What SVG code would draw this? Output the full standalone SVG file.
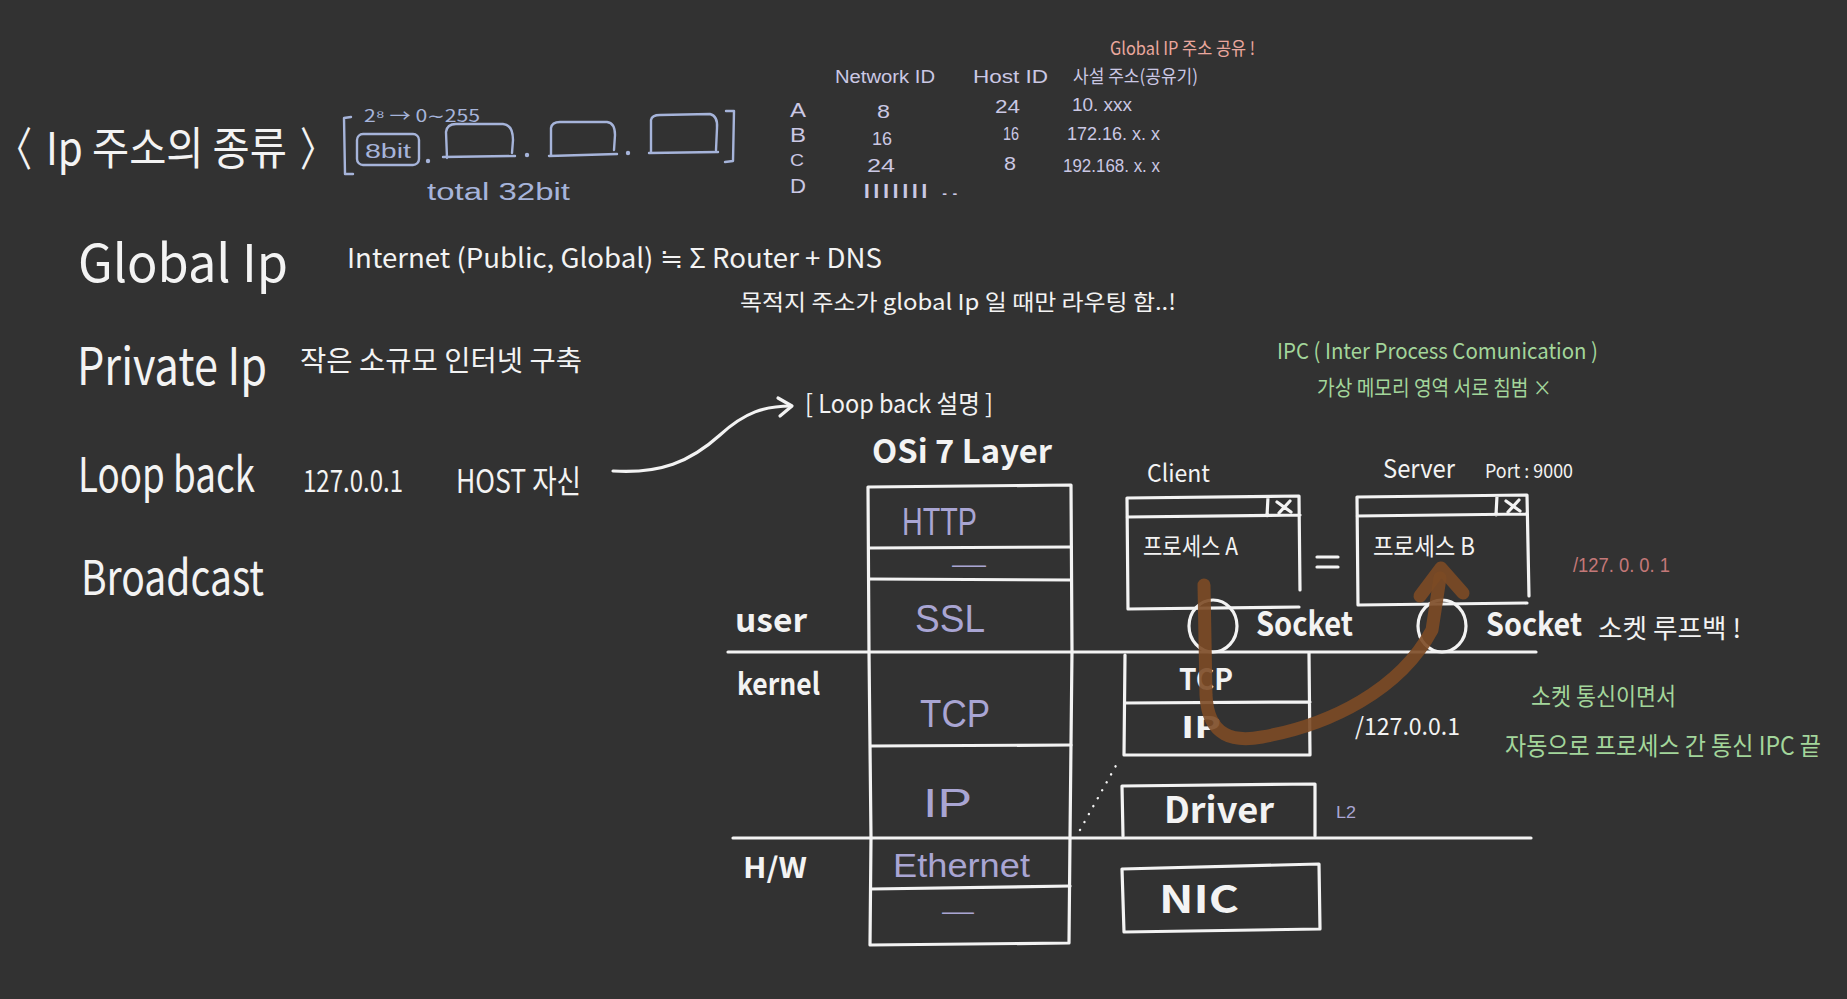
<svg xmlns="http://www.w3.org/2000/svg" width="1847" height="999" viewBox="0 0 1847 999">
<style>
text{font-family:"Noto Sans CJK KR","Liberation Sans",sans-serif}
.lat{font-family:"Liberation Sans","Noto Sans CJK KR",sans-serif}
.w{fill:#f3f3f3}
.b{font-weight:700}
.lav{fill:#a9a5d3}
.blue{fill:#a6b4da}
.tb{fill:#cbc8e4}
.pink{fill:#eaa79d}
.rose{fill:#c47878}
.grn{fill:#a3d69b}
.ln{stroke:#f3f3f3;stroke-width:3.2;fill:none;stroke-linecap:round;stroke-linejoin:round}
.bl{stroke:#a6b4da;stroke-width:2.4;fill:none;stroke-linecap:round;stroke-linejoin:round}
</style>
<rect width="1847" height="999" fill="#323232"/>

<g id="title">
<text class="w" transform="translate(0,165) scale(1,1.35)" x="-2" y="0" font-size="34" textLength="34" lengthAdjust="spacingAndGlyphs">〈</text>
<text class="w" transform="translate(0,165) scale(1,1.2)" x="46" y="0" font-size="38" textLength="241" lengthAdjust="spacingAndGlyphs">Ip 주소의 종류</text>
<text class="w" transform="translate(0,165) scale(1,1.35)" x="300" y="0" font-size="34" textLength="34" lengthAdjust="spacingAndGlyphs">〉</text>
</g>

<g id="ip-format">
<path class="bl" d="M351,117 L344,118 L345,174 L353,174"/>
<rect class="bl" x="357" y="134" width="62" height="31" rx="6"/>
<text class="blue lat" x="365" y="158" font-size="20" textLength="46" lengthAdjust="spacingAndGlyphs">8bit</text>
<circle cx="428" cy="161" r="2.2" fill="#a6b4da"/>
<path class="bl" d="M447,158 L446,132 Q447,124 456,124 L503,124 Q513,125 513,140 L512,153 M443,157 L515,156"/>
<circle cx="527" cy="155" r="2.2" fill="#a6b4da"/>
<path class="bl" d="M551,156 L551,128 Q552,122 560,122 L607,122 Q615,123 615,135 L614,150 M549,156 L617,154"/>
<circle cx="628" cy="153" r="2.2" fill="#a6b4da"/>
<path class="bl" d="M651,152 L651,120 Q652,115 660,115 L710,114 Q718,116 717,128 L716,150 M649,153 L718,152"/>
<path class="bl" d="M726,111 L734,111 L733,161 L725,162"/>
<text class="blue" x="364" y="122" font-size="17" font-family="DejaVu Sans" textLength="116" lengthAdjust="spacingAndGlyphs">2⁸ → 0∼255</text>
<text class="blue lat" x="427" y="200" font-size="23" textLength="143" lengthAdjust="spacingAndGlyphs">total 32bit</text>
</g>

<g id="class-table">
<text class="pink" x="1110" y="55" font-size="18" textLength="145" lengthAdjust="spacingAndGlyphs">Global IP 주소 공유 !</text>
<text class="tb lat" x="835" y="83" font-size="18" textLength="100" lengthAdjust="spacingAndGlyphs">Network ID</text>
<text class="tb lat" x="973" y="83" font-size="18" textLength="75" lengthAdjust="spacingAndGlyphs">Host ID</text>
<text class="tb" x="1073" y="83" font-size="18" textLength="125" lengthAdjust="spacingAndGlyphs">사설 주소(공유기)</text>
<text class="tb lat" x="790" y="117" font-size="20" textLength="16" lengthAdjust="spacingAndGlyphs">A</text>
<text class="tb lat" x="790" y="142" font-size="20" textLength="16" lengthAdjust="spacingAndGlyphs">B</text>
<text class="tb lat" x="790" y="166" font-size="17" textLength="14" lengthAdjust="spacingAndGlyphs">C</text>
<text class="tb lat" x="790" y="193" font-size="20" textLength="16" lengthAdjust="spacingAndGlyphs">D</text>
<text class="tb lat" x="877" y="118" font-size="19" textLength="13" lengthAdjust="spacingAndGlyphs">8</text>
<text class="tb lat" x="995" y="113" font-size="19" textLength="25" lengthAdjust="spacingAndGlyphs">24</text>
<text class="tb lat" x="1072" y="111" font-size="18" textLength="60" lengthAdjust="spacingAndGlyphs">10. xxx</text>
<text class="tb lat" x="872" y="145" font-size="19" textLength="20" lengthAdjust="spacingAndGlyphs">16</text>
<text class="tb lat" x="1003" y="140" font-size="19" textLength="16" lengthAdjust="spacingAndGlyphs">16</text>
<text class="tb lat" x="1067" y="140" font-size="18" textLength="93" lengthAdjust="spacingAndGlyphs">172.16. x. x</text>
<text class="tb lat" x="867" y="172" font-size="19" textLength="28" lengthAdjust="spacingAndGlyphs">24</text>
<text class="tb lat" x="1004" y="170" font-size="19" textLength="12" lengthAdjust="spacingAndGlyphs">8</text>
<text class="tb lat" x="1063" y="172" font-size="18" textLength="97" lengthAdjust="spacingAndGlyphs">192.168. x. x</text>
<text class="tb lat" x="862" y="195" font-size="15" textLength="98" lengthAdjust="spacingAndGlyphs">|||||||  ..</text>
</g>

<g id="global-ip">
<text class="w" x="78" y="282" font-size="52" textLength="210" lengthAdjust="spacingAndGlyphs">Global Ip</text>
<text class="w" x="347" y="268" font-size="27" textLength="535" lengthAdjust="spacingAndGlyphs">Internet (Public, Global) ≒ Σ Router + DNS</text>
<text class="w" x="740" y="310" font-size="22" textLength="436" lengthAdjust="spacingAndGlyphs">목적지 주소가 global Ip 일 때만 라우팅 함..!</text>
</g>

<g id="private-ip">
<text class="w" x="77" y="385" font-size="52" textLength="190" lengthAdjust="spacingAndGlyphs">Private Ip</text>
<text class="w" x="300" y="371" font-size="28" textLength="282" lengthAdjust="spacingAndGlyphs">작은 소규모 인터넷 구축</text>
</g>

<g id="loop-back">
<text class="w" transform="translate(0,492) scale(1,1.1)" x="78" y="0" font-size="44" textLength="177" lengthAdjust="spacingAndGlyphs">Loop back</text>
<text class="w" x="303" y="492" font-size="30" textLength="100" lengthAdjust="spacingAndGlyphs">127.0.0.1</text>
<text class="w" x="456" y="493" font-size="32" textLength="125" lengthAdjust="spacingAndGlyphs">HOST 자신</text>
</g>

<g id="broadcast">
<text class="w" x="81" y="595" font-size="48" textLength="183" lengthAdjust="spacingAndGlyphs">Broadcast</text>
</g>

<g id="loopback-desc">
<text class="w" x="805" y="413" font-size="25" textLength="188" lengthAdjust="spacingAndGlyphs">[ Loop back 설명 ]</text>
</g>

<g id="ipc-note">
<text class="grn" x="1277" y="359" font-size="22" textLength="321" lengthAdjust="spacingAndGlyphs">IPC ( Inter  Process  Comunication )</text>
<text class="grn" x="1317" y="395" font-size="21" textLength="235" lengthAdjust="spacingAndGlyphs">가상 메모리 영역 서로 침범 ×</text>
</g>

<g id="osi-stack">
<text class="w b" x="872" y="463" font-size="32" textLength="180" lengthAdjust="spacingAndGlyphs">OSi 7 Layer</text>
<path class="ln" d="M868,487 L1071,485 L1072,651 L1070,838 L1069,943 L870,945 L871,838 L869,651 Z"/>
<path class="ln" d="M869,548 L1071,547 M869,579 L1071,580 M871,746 L1071,745 M871,889 L1070,886"/>
<text class="lav lat" x="902" y="535" font-size="38" textLength="75" lengthAdjust="spacingAndGlyphs">HTTP</text>
<text class="lav lat" x="952" y="572" font-size="24" textLength="34" lengthAdjust="spacingAndGlyphs">—</text>
<text class="lav lat" x="915" y="632" font-size="38" textLength="70" lengthAdjust="spacingAndGlyphs">SSL</text>
<text class="lav lat" x="920" y="727" font-size="38" textLength="70" lengthAdjust="spacingAndGlyphs">TCP</text>
<text class="lav lat" x="923" y="817" font-size="40" textLength="49" lengthAdjust="spacingAndGlyphs">IP</text>
<text class="lav lat" x="893" y="877" font-size="34" textLength="137" lengthAdjust="spacingAndGlyphs">Ethernet</text>
<text class="lav lat" x="942" y="919" font-size="24" textLength="32" lengthAdjust="spacingAndGlyphs">—</text>
</g>

<g id="layer-lines">
<path class="ln" d="M728,652 L1536,652 M733,838 L1531,838"/>
<text class="w b" x="735" y="632" font-size="32" textLength="72" lengthAdjust="spacingAndGlyphs">user</text>
<text class="w b" x="737" y="695" font-size="30" textLength="83" lengthAdjust="spacingAndGlyphs">kernel</text>
<text class="w b" x="743" y="878" font-size="28" textLength="64" lengthAdjust="spacingAndGlyphs">H/W</text>
</g>

<g id="client">
<text class="w" x="1147" y="482" font-size="24" textLength="63" lengthAdjust="spacingAndGlyphs">Client</text>
<path class="ln" d="M1127,498 L1299,496 L1300,590 M1127,498 L1128,609 L1299,607 M1127,517 L1300,515 M1268,497 L1267,516"/>
<path class="ln" d="M1277,502 L1291,512 M1290,501 L1279,513" stroke-width="3.6"/>
<text class="w" x="1143" y="555" font-size="24" textLength="95" lengthAdjust="spacingAndGlyphs">프로세스  A</text>
<ellipse class="ln" cx="1213" cy="626" rx="24" ry="26"/>
<text class="w b" x="1256" y="636" font-size="33" textLength="97" lengthAdjust="spacingAndGlyphs">Socket</text>
</g>

<g id="equals">
<path class="ln" d="M1317,557 L1338,557 M1317,567 L1338,567"/>
</g>

<g id="server">
<text class="w" x="1383" y="478" font-size="26" textLength="72" lengthAdjust="spacingAndGlyphs">Server</text>
<text class="w" x="1485" y="478" font-size="19" textLength="88" lengthAdjust="spacingAndGlyphs">Port : 9000</text>
<path class="ln" d="M1357,497 L1527,495 L1529,596 M1357,497 L1358,605 L1527,603 M1357,516 L1527,514 M1497,496 L1496,515"/>
<path class="ln" d="M1506,501 L1520,511 M1519,500 L1508,512" stroke-width="3.6"/>
<text class="w" x="1373" y="555" font-size="24" textLength="102" lengthAdjust="spacingAndGlyphs">프로세스  B</text>
<ellipse class="ln" cx="1442" cy="626" rx="24" ry="26"/>
<text class="w b" x="1486" y="636" font-size="32" textLength="96" lengthAdjust="spacingAndGlyphs">Socket</text>
<text class="w" x="1598" y="638" font-size="26" textLength="143" lengthAdjust="spacingAndGlyphs">소켓 루프백 !</text>
<text class="rose lat" x="1573" y="572" font-size="20" textLength="97" lengthAdjust="spacingAndGlyphs">/127. 0. 0. 1</text>
</g>

<g id="kernel-stack">
<path class="ln" d="M1125,655 L1124,755 L1310,755 L1309,653 M1125,703 L1310,702"/>
<text class="w b" x="1179" y="690" font-size="30" textLength="54" lengthAdjust="spacingAndGlyphs">TCP</text>
<text class="w b" x="1181" y="738" font-size="30" textLength="40" lengthAdjust="spacingAndGlyphs">IP</text>
<text class="w" x="1355" y="735" font-size="24" textLength="105" lengthAdjust="spacingAndGlyphs">/127.0.0.1</text>
</g>

<g id="driver">
<path class="ln" d="M1122,786 L1315,784 L1315,836 M1122,786 L1123,836"/>
<text class="w b" x="1164" y="823" font-size="36" textLength="110" lengthAdjust="spacingAndGlyphs">Driver</text>
<text class="lav lat" x="1336" y="818" font-size="16" textLength="20" lengthAdjust="spacingAndGlyphs">L2</text>
</g>

<g id="nic">
<path class="ln" d="M1122,869 L1319,864 L1320,929 L1124,932 Z"/>
<text class="w b" x="1159" y="913" font-size="38" textLength="80" lengthAdjust="spacingAndGlyphs">NIC</text>
</g>

<g id="ipc-result">
<text class="grn" x="1531" y="705" font-size="24" textLength="145" lengthAdjust="spacingAndGlyphs">소켓 통신이면서</text>
<text class="grn" x="1505" y="755" font-size="25" textLength="316" lengthAdjust="spacingAndGlyphs">자동으로 프로세스 간 통신 IPC 끝</text>
</g>

<g id="connectors">
<path class="ln" d="M613,471 C660,474 690,462 720,435 C745,412 765,406 791,406"/>
<path class="ln" d="M778,398 L792,406 L780,416"/>
<path d="M1080,830 L1118,762" stroke="#f3f3f3" stroke-width="2.4" stroke-dasharray="0.1 9" stroke-linecap="round" fill="none"/>
<g stroke="#7c4a25" stroke-opacity="0.9" stroke-width="13" stroke-linecap="round" stroke-linejoin="round" fill="none">
<path d="M1204,585 L1206,695 C1208,738 1235,742 1262,737 C1330,725 1400,690 1432,630 L1440,578"/>
<path d="M1420,596 L1441,568 L1463,593"/>
</g>
</g>
</svg>
